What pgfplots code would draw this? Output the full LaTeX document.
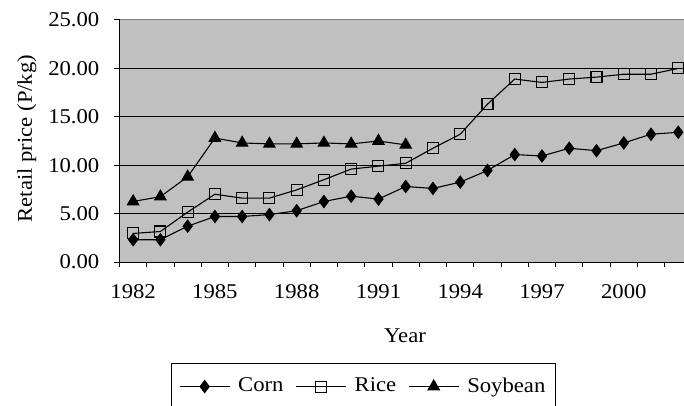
\documentclass[border=0pt]{standalone}
\usepackage{pgfplots}
\pgfplotsset{compat=1.18}
\usepackage{fontspec}
\setmainfont{Liberation Serif}[FakeStretch=1.08]
\definecolor{bg}{HTML}{C0C0C0}
\begin{document}
\fontsize{21bp}{25bp}\selectfont
\begin{tikzpicture}
\useasboundingbox (0,0) rectangle (684bp,406bp);
\begin{axis}[
  at={(119.5bp,144bp)}, anchor=south west,
  scale only axis, width=564.5bp, height=242bp,
  xmin=1981.5, xmax=2002.21, ymin=0, ymax=25,
  axis x line*=bottom, axis y line*=left,
  axis line style={black, line width=1bp},
  axis background/.style={fill=bg},
  tick align=outside,
  major tick length=6bp,
  minor tick length=5bp,
  tick style={black, line width=1bp},
  xtick={1982,1985,1988,1991,1994,1997,2000},
  xticklabels={1982,1985,1988,1991,1994,1997,2000},
  xticklabel style={yshift=-9bp},
  every major x tick/.append style={draw=none},
  minor xtick={1981.5,1982.5,...,2001.5},
  ytick={0,5,10,15,20},
  yticklabels={0.00,5.00,10.00,15.00,20.00},
  extra y ticks={25},
  extra y tick labels={25.00},
  extra y tick style={grid=none},
  yticklabel style={xshift=-7bp},
  ymajorgrids,
  grid style={black, line width=0.8bp},
  xlabel={Year},
  xlabel style={at={(axis description cs:0.5058,-0.3347)}, anchor=base},
  ylabel={Retail price (P/kg)},
  ylabel style={at={(axis description cs:-0.1639,0.51)}, anchor=center},
  legend columns=-1,
  legend style={at={(axis description cs:0.0907,-0.4186)}, anchor=north west,
    draw=black, line width=0.8bp, fill=white, inner xsep=8bp, inner ysep=12bp,
    /tikz/every even column/.append style={column sep=10bp},
    /tikz/every odd column/.append style={column sep=6bp}},
  legend image code/.code={\draw[mark repeat=2,mark phase=2,#1] plot coordinates {(0bp,0bp) (25bp,0bp) (50bp,0bp)};},
]
\draw[gray, line width=1bp] (rel axis cs:0,1) -- (rel axis cs:1,1);
\addplot[black, line width=1.1bp, mark=diamond*, mark size=6bp, mark options={solid, fill=black}] coordinates {
(1982,2.3) (1983,2.3) (1984,3.7) (1985,4.7) (1986,4.7) (1987,4.9) (1988,5.3) (1989,6.25) (1990,6.8) (1991,6.5) (1992,7.8) (1993,7.6) (1994,8.25) (1995,9.45) (1996,11.1) (1997,10.95) (1998,11.75) (1999,11.5) (2000,12.3) (2001,13.2) (2002,13.4)};
\addlegendentry{Corn}
\addplot[black, line width=1.1bp, mark=square, mark size=5.5bp, mark options={solid}] coordinates {
(1982,2.95) (1983,3.15) (1984,5.15) (1985,7.0) (1986,6.6) (1987,6.6) (1988,7.45) (1989,8.5) (1990,9.6) (1991,9.9) (1992,10.2) (1993,11.75) (1994,13.2) (1995,16.3) (1996,18.9) (1997,18.55) (1998,18.9) (1999,19.1) (2000,19.4) (2001,19.4) (2002,20.0)};
\addlegendentry{Rice}
\addplot[black, line width=1.1bp, mark=triangle*, mark size=6.5bp, mark options={solid, fill=black}] coordinates {
(1982,6.25) (1983,6.75) (1984,8.8) (1985,12.8) (1986,12.3) (1987,12.2) (1988,12.2) (1989,12.3) (1990,12.2) (1991,12.5) (1992,12.1)};
\addlegendentry{Soybean}
\end{axis}
\end{tikzpicture}
\end{document}
